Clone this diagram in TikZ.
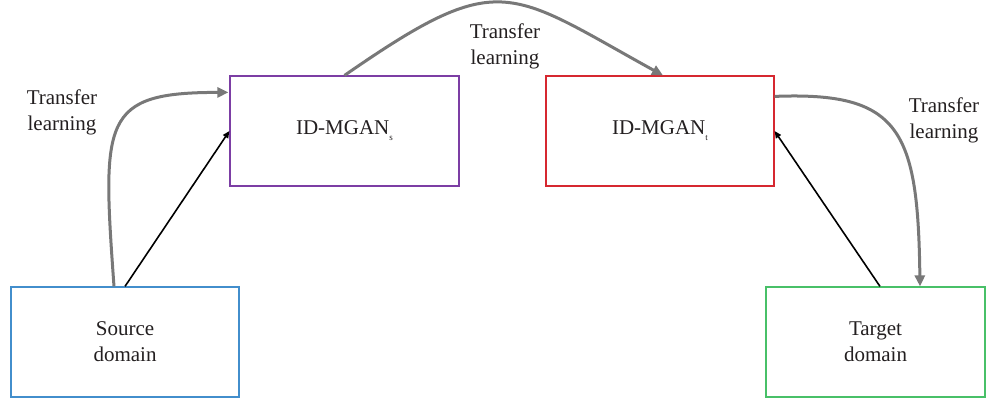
\documentclass[tikz,border=0pt]{standalone}
\usepackage{fontspec}
\setmainfont{Liberation Serif}
\usetikzlibrary{arrows.meta,calc}

\definecolor{srcblue}{RGB}{66,142,204}
\definecolor{idspurple}{RGB}{124,62,164}
\definecolor{idtred}{RGB}{214,40,48}
\definecolor{tgtgreen}{RGB}{72,192,104}
\definecolor{tlgray}{RGB}{120,120,120}
\definecolor{ink}{RGB}{35,31,32}

\newcommand{\lowsub}[1]{{\fontsize{9}{9}\selectfont\raisebox{-6pt}{#1}}}

\begin{document}
\begin{tikzpicture}[x=1pt,y=-1pt,
  every node/.style={text=ink,font=\fontsize{21}{26}\selectfont},
  box/.style={draw,line width=1.2pt,inner sep=0pt,minimum height=110pt,align=center},
  tllabel/.style={align=center,inner sep=0pt},
  transfer/.style={draw=tlgray,line width=3pt,-{Triangle[length=11pt,width=10pt]}},
  feed/.style={draw=black,line width=1.6pt,-{Triangle[length=7pt,width=6pt]}}]

\useasboundingbox (0,0) rectangle (986,402);

% boxes
\node[box,draw=srcblue,minimum width=228pt]   (src) at (125,342)   {Source\\domain};
\node[box,draw=idspurple,minimum width=229pt] (ids) at (344.5,131) {ID-MGAN\lowsub{s}};
\node[box,draw=idtred,minimum width=228pt]    (idt) at (660,131)   {ID-MGAN\lowsub{t}};
\node[box,draw=tgtgreen,minimum width=219pt]  (tgt) at (875.5,342) {Target\\domain};

% labels of the transfer arrows
\node[tllabel] (lab1) at (62,112)  {Transfer\\learning};
\node[tllabel] (lab2) at (505,46)  {Transfer\\learning};
\node[tllabel] (lab3) at (944,120) {Transfer\\learning};

% transfer-learning arrows
\draw[transfer] ($(src.north)+(-11,0)$) .. controls +(-12,-167) and +(-127,0) .. ($(ids.north west)+(-1,17)$);
\draw[transfer] (ids.north) .. controls +(156,-108) and +(-156,-86) .. ($(idt.north)+(3,0)$);
\draw[transfer] ($(idt.north east)+(0,21)$) .. controls +(126,-5) and +(-2,-156) .. ($(tgt.north)+(44.5,0)$);

% data feeding arrows
\draw[feed] (src.north) -- (ids.west);
\draw[feed] ($(tgt.north)+(4.5,0)$) -- (idt.east);

\end{tikzpicture}
\end{document}
